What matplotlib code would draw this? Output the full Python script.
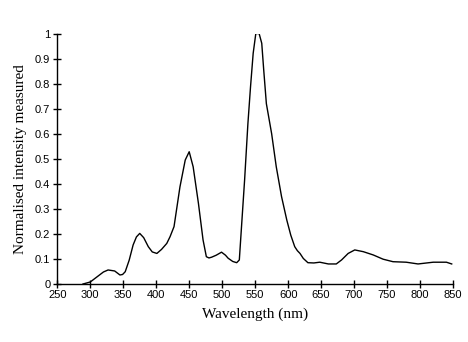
import matplotlib
matplotlib.use("Agg")
import matplotlib.pyplot as plt

# wavelength (nm) and normalised intensity
wavelength = [289, 300, 312, 320, 327, 337, 345, 349, 353, 359, 365, 370, 375,
              381, 388, 394, 401, 408, 416, 421, 427, 436, 444, 450, 456, 464,
              471, 476, 480, 484, 491, 499, 505, 509, 516, 522, 526, 529, 534,
              539, 543, 547, 551, 556, 560, 563, 567, 571, 575, 582, 590, 598,
              604, 610, 614, 618, 623, 630, 639, 648, 661, 673, 681, 691, 701,
              714, 729, 744, 759, 779, 797, 820, 840, 848]
intensity = [0.0, 0.008, 0.032, 0.048, 0.056, 0.052, 0.036, 0.038, 0.049, 0.095,
             0.156, 0.188, 0.202, 0.185, 0.149, 0.128, 0.122, 0.138, 0.162, 0.189,
             0.229, 0.388, 0.495, 0.528, 0.468, 0.322, 0.176, 0.109, 0.104, 0.107,
             0.115, 0.127, 0.115, 0.103, 0.090, 0.085, 0.096, 0.216, 0.415, 0.640,
             0.788, 0.921, 1.0, 1.0, 0.961, 0.854, 0.72, 0.66, 0.60, 0.468, 0.349,
             0.255, 0.195, 0.149, 0.133, 0.122, 0.102, 0.085, 0.084, 0.087, 0.080,
             0.080, 0.096, 0.122, 0.136, 0.129, 0.116, 0.099, 0.089, 0.087, 0.080,
             0.087, 0.087, 0.080]

xticks = list(range(250, 851, 50))
yticks = [0, 0.1, 0.2, 0.3, 0.4, 0.5, 0.6, 0.7, 0.8, 0.9, 1]

fig = plt.figure(figsize=(4.68, 3.42), dpi=100)
ax = fig.add_axes([0.1224, 0.1696, 0.8456, 0.7324])

ax.plot(wavelength, intensity, color="black", linewidth=1.0)

ax.set_xlim(250, 850)
ax.set_ylim(0, 1)
ax.set_xticks(xticks)
ax.set_yticks(yticks)
ax.set_yticklabels(["%g" % t for t in yticks])

ax.spines["top"].set_visible(False)
ax.spines["right"].set_visible(False)
for s in ["left", "bottom"]:
    ax.spines[s].set_linewidth(1.0)

ax.tick_params(direction="inout", length=6, width=1.0, labelsize=8, colors="black")
ax.tick_params(axis="x", pad=1)
ax.tick_params(axis="y", pad=2)
for lab in ax.get_xticklabels() + ax.get_yticklabels():
    lab.set_fontfamily("Liberation Sans")

ax.set_xlabel("Wavelength (nm)", fontfamily="Liberation Serif", fontsize=11, labelpad=6)
ax.set_ylabel("Normalised intensity measured", fontfamily="Liberation Serif", fontsize=11, labelpad=6)

fig.savefig("out.png", dpi=100)
